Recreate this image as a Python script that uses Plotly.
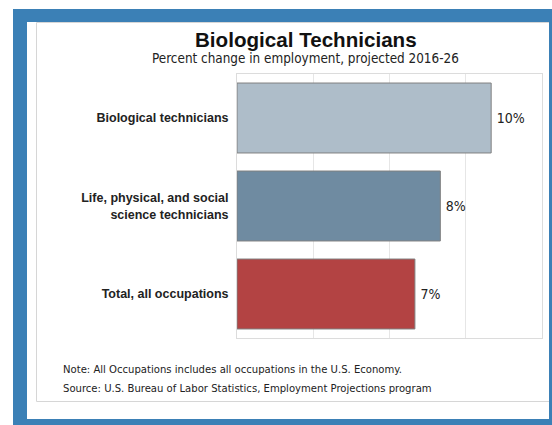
import plotly.graph_objects as go

categories = ["Total, all occupations",
              "Life, physical, and social<br>science technicians",
              "Biological technicians"]
values = [7, 8, 10]
bar_colors = ["#b34343", "#6f8ba1", "#aebdc9"]
value_labels = ["7%", "8%", "10%"]

title_text = "Biological Technicians"
subtitle_text = "Percent change in employment, projected 2016-26"
note_text = "Note: All Occupations includes all occupations in the U.S. Economy."
source_text = "Source: U.S. Bureau of Labor Statistics, Employment Projections program"

W, H = 552, 425
L, R, T, B = 237, 10, 74, 87
PW, PH = W - L - R, H - T - B


def px(x):
    return (x - L) / PW


def py(y):
    return (H - B - y) / PH


NOTE_FONT = "DejaVu Sans Condensed, DejaVu Sans, sans-serif"
BLUE = "#3b80b6"

fig = go.Figure()
fig.add_trace(go.Bar(
    y=categories, x=values, orientation="h",
    marker=dict(color=bar_colors, line=dict(color="#808080", width=1)),
    text=["\u2009" + t for t in value_labels], textposition="outside",
    textfont=dict(family=NOTE_FONT, size=14, color="#222222"),
    cliponaxis=False, width=0.795,
    hoverinfo="skip",
))

shapes = [
    dict(type="rect", xref="paper", yref="paper", x0=px(13), x1=px(560),
         y0=py(9), y1=py(430), fillcolor=BLUE, line=dict(width=0), layer="below"),
    dict(type="rect", xref="paper", yref="paper", x0=px(27), x1=px(549),
         y0=py(22), y1=py(419), fillcolor="white", line=dict(width=0), layer="below"),
    dict(type="rect", xref="paper", yref="paper", x0=px(36.5), x1=px(556),
         y0=py(22.5), y1=py(401.5), fillcolor="white",
         line=dict(width=1, color="#d6d6d6"), layer="below"),
    dict(type="rect", xref="paper", yref="paper", x0=px(549), x1=px(560),
         y0=py(9), y1=py(430), fillcolor=BLUE, line=dict(width=0), layer="below"),
]

annotations = [
    dict(text="<b>" + title_text + "</b>", xref="paper", yref="paper",
         x=px(306), y=py(39), xanchor="center", yanchor="middle", showarrow=False,
         font=dict(family="Liberation Sans, Arial, sans-serif", size=20.6, color="#111111")),
    dict(text=subtitle_text, xref="paper", yref="paper",
         x=px(305), y=py(58.5), xanchor="center", yanchor="middle", showarrow=False,
         font=dict(family=NOTE_FONT, size=13.4, color="#222222")),
    dict(text=note_text, xref="paper", yref="paper",
         x=px(61), y=py(369), xanchor="left", yanchor="middle", showarrow=False,
         font=dict(family=NOTE_FONT, size=11.2, color="#222222")),
    dict(text=source_text, xref="paper", yref="paper",
         x=px(61), y=py(388), xanchor="left", yanchor="middle", showarrow=False,
         font=dict(family=NOTE_FONT, size=11.2, color="#222222")),
]

fig.update_layout(
    width=W, height=H,
    margin=dict(l=L, r=R, t=T, b=B, pad=0),
    paper_bgcolor="white", plot_bgcolor="white",
    showlegend=False,
    shapes=shapes, annotations=annotations,
    bargap=0.205,
    xaxis=dict(range=[0, 12], dtick=3, showticklabels=False, ticks="",
               showgrid=True, gridcolor="#e6e6e6", gridwidth=1,
               zeroline=False, showline=True, linecolor="#dcdcdc", mirror=True,
               fixedrange=True),
    yaxis=dict(showgrid=False, zeroline=False, showline=True, linecolor="#dcdcdc",
               mirror=True, ticks="", ticklabelstandoff=5,
               tickfont=dict(family="Liberation Sans, Arial, sans-serif", size=12.5,
                             color="#222222", weight="bold"),
               fixedrange=True),
)

fig.write_html("out.html", config={"displayModeBar": False},
               post_script="document.body.style.margin='0';document.body.style.overflow='hidden';")
